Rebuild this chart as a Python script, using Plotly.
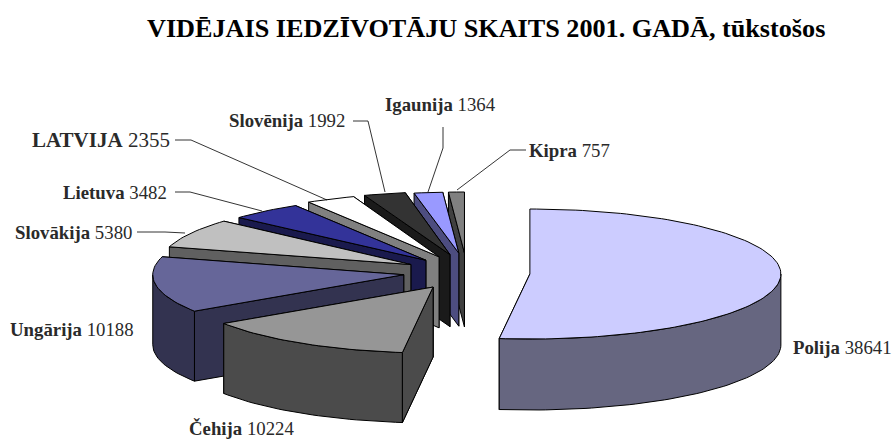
import math
import plotly.graph_objects as go

# --- data ---
countries = ["Polija", "Čehija", "Ungārija", "Slovākija", "Lietuva", "LATVIJA", "Slovēnija", "Igaunija", "Kipra"]
population = [38641, 10224, 10188, 5380, 3482, 2355, 1992, 1364, 757]
title_text = "<b>VIDĒJAIS IEDZĪVOTĀJU SKAITS 2001. GADĀ, tūkstošos</b>"

# --- style / pie projection (screen-pixel axes) ---
top_colors = ["#CCCCFF", "#969696", "#666699", "#C0C0C0", "#333399", "#FFFFFF", "#333333", "#9999FF", "#808080"]
wall_colors = ["#666680", "#4B4B4B", "#333350", "#606060", "#1A1A4D", "#808080", "#1A1A1A", "#4D4D80", "#404040"]
RX = 251
CX, CY = 466.5, 271.4
EXPLODE_X, EXPLODE_Y = 63.5, 18.4
ry_by_slice = [65, 66, 66, 65, 64, 64, 63, 61, 61]
depth_by_slice = [71, 70, 70, 70, 71, 71, 72, 73, 74]
lift_by_slice = [1.5, 0, 0.5, 2, 3, 2, 1, 0, 0]

FONT = "Liberation Serif, Garamond, serif"
TXT = "#2A2A2A"

label_pos = [(791, 347), (187, 428), (8, 329), (13, 232), (61, 192), (30, 140), (227, 120), (383, 104), (527, 150)]
label_size = [18.8, 18.8, 18.8, 18.8, 18.8, 21, 18.8, 18.8, 18.8]
leaders = {
    3: [(137, 232), (165, 232), (185, 233)],
    4: [(175, 192), (190, 192), (262, 211)],
    5: [(175, 140), (191, 140), (327, 200)],
    6: [(353, 121), (368, 121), (385, 192)],
    7: [(443, 127), (443, 148), (428, 192)],
    8: [(526, 150), (510, 150), (457, 190)],
}

fig = go.Figure()


def add_poly(xs, ys, color):
    fig.add_trace(go.Scatter(x=xs + xs[:1], y=ys + ys[:1], mode="lines", fill="toself",
                             fillcolor=color, line=dict(color="#000000", width=1),
                             hoverinfo="skip", showlegend=False))


total = sum(population)
start = 0.0
slices = []
for i, v in enumerate(population):
    sweep = v / total * 360
    slices.append((i, start, start + sweep))
    start += sweep

# painter's order: back slices first, the largest slice is separate and drawn last
for i, a0, a1 in slices[::-1]:
    mid = math.radians((a0 + a1) / 2)
    ax = CX + EXPLODE_X * math.sin(mid)
    ay = CY - EXPLODE_Y * math.cos(mid) + lift_by_slice[i]
    ry, dep = ry_by_slice[i], depth_by_slice[i]

    def rim(deg):
        t = math.radians(deg)
        return ax + RX * math.sin(t), ay - ry * math.cos(t)

    # hidden far radial wall
    x2, y2 = rim(a1)
    add_poly([ax, x2, x2, ax], [ay, y2, y2 + dep, ay + dep], wall_colors[i])
    # near radial wall
    x1, y1 = rim(a0)
    if i != 0:
        add_poly([ax, x1, x1, ax], [ay, y1, y1 + dep, ay + dep], wall_colors[i])
    # arc wall on the front half
    lo, hi = max(a0, 90), min(a1, 270)
    if hi > lo:
        n = max(2, int((hi - lo) / 1.5))
        pts = [rim(lo + (hi - lo) * k / n) for k in range(n + 1)]
        add_poly([p[0] for p in pts] + [p[0] for p in pts[::-1]],
                 [p[1] for p in pts] + [p[1] + dep for p in pts[::-1]], wall_colors[i])
    if i == 1:
        # Čehija's right-hand cut face sits in front of its arc wall's edge
        add_poly([ax, x1, x1, ax], [ay, y1, y1 + dep, ay + dep], wall_colors[i])
    # top face
    n = max(2, int((a1 - a0) / 1.5))
    pts_top = [rim(a0 + (a1 - a0) * k / n) for k in range(n + 1)]
    add_poly([ax] + [p[0] for p in pts_top], [ay] + [p[1] for p in pts_top], top_colors[i])

for pts in leaders.values():
    fig.add_trace(go.Scatter(x=[p[0] for p in pts], y=[p[1] for p in pts], mode="lines",
                             line=dict(color="#000000", width=0.8), hoverinfo="skip", showlegend=False))

annotations = [dict(x=486, y=28, xref="x", yref="y", text=title_text, showarrow=False,
                    font=dict(family=FONT, size=26.2, color="#000000"))]
for i, name in enumerate(countries):
    lx, ly = label_pos[i]
    annotations.append(dict(x=lx, y=ly, xref="x", yref="y", xanchor="left", yanchor="middle",
                            text=f"<b>{name}</b> {population[i]}", showarrow=False,
                            font=dict(family=FONT, size=label_size[i], color=TXT)))

fig.update_layout(
    width=896, height=440, margin=dict(l=0, r=0, t=0, b=0),
    paper_bgcolor="white", plot_bgcolor="white", showlegend=False,
    xaxis=dict(range=[0, 896], visible=False, fixedrange=True),
    yaxis=dict(range=[440, 0], visible=False, fixedrange=True),
    annotations=annotations,
)
fig.write_html("out.html", config={"displayModeBar": False},
               default_width="896px", default_height="440px",
               post_script="document.body.style.margin='0';")
